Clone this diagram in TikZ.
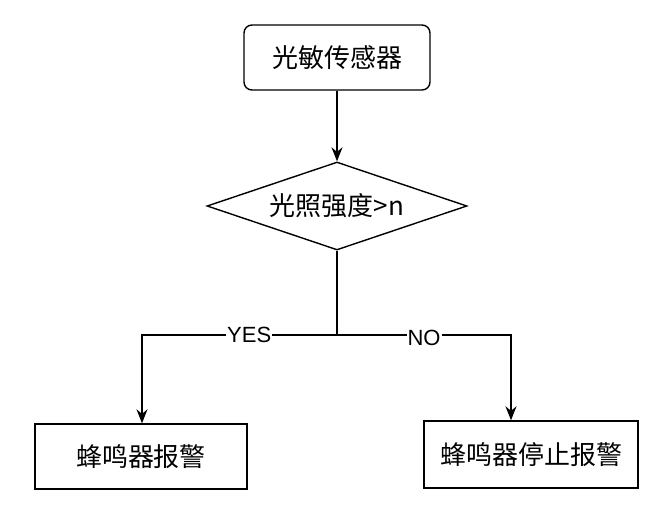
\documentclass[tikz,border=0pt]{standalone}
\usepackage{fontspec}
\setmainfont{Liberation Sans}
\newfontfamily\cjk{Noto Sans CJK SC}
\usetikzlibrary{arrows.meta,shapes.geometric}
\begin{document}
\begin{tikzpicture}[x=1pt,y=-1pt,
  box/.style={draw,line width=1.4pt,minimum width=212pt,minimum height=65pt,font=\cjk\fontsize{26}{30}\selectfont},
  arr/.style={line width=1.4pt,-{Stealth[length=14pt,width=11pt]}},
  lbl/.style={fill=white,inner sep=1pt,font=\fontsize{22}{26}\selectfont}]
\useasboundingbox (0,0) rectangle (649,517);
\node[box,rounded corners=8pt,minimum width=186pt] (s) at (337,57.5) {光敏传感器};
\node[draw,line width=1.4pt,diamond,aspect=2.95,minimum width=260pt,minimum height=88pt,inner sep=0pt,font=\cjk\fontsize{26}{30}\selectfont] (d) at (337,206) {光照强度>n};
\node[box] (l) at (141,456.5) {蜂鸣器报警};
\node[box,minimum width=214pt,minimum height=67pt] (r) at (531,454.5) {蜂鸣器停止报警};
\coordinate (j) at (337,335);
\draw[arr] (s) -- (d);
\draw[line width=1.4pt] (d.south) -- (j);
\draw[arr] (j) -- node[lbl,pos=0.45]{YES} (142,335) -- (l.north -| 142,0);
\draw[arr] (j) -- node[lbl,pos=0.5,yshift=-3pt]{NO} (511,335) -- (r.north -| 511,0);
\end{tikzpicture}
\end{document}
